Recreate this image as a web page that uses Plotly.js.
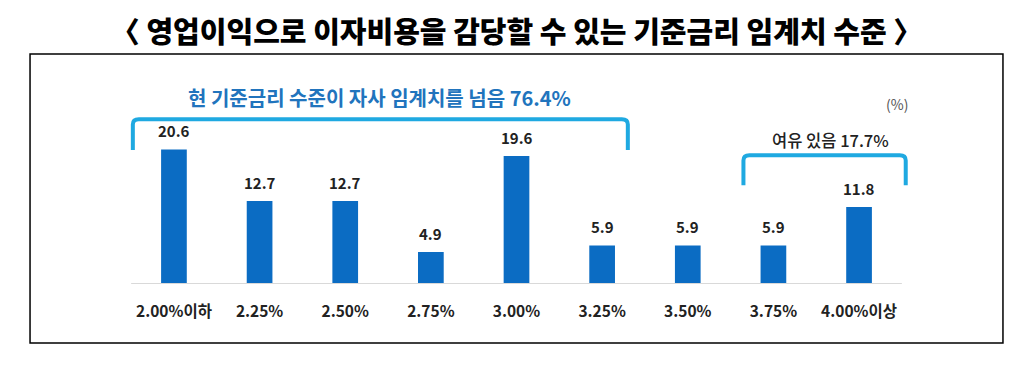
<!DOCTYPE html>
<html>
<head>
<meta charset="utf-8">
<script src="https://cdn.plot.ly/plotly-3.0.1.min.js"></script>
<style>html,body{margin:0;padding:0;background:#fff;}#chart{width:1034px;height:367px;}</style>
</head>
<body>
<div id="chart"></div>
<script>
const categories = ["2.00%이하", "2.25%", "2.50%", "2.75%", "3.00%", "3.25%", "3.50%", "3.75%", "4.00%이상"];
const values = [20.6, 12.7, 12.7, 4.9, 19.6, 5.9, 5.9, 5.9, 11.8];
const valueLabels = ["20.6", "12.7", "12.7", "4.9", "19.6", "5.9", "5.9", "5.9", "11.8"];
const titleText = "〈 영업이익으로 이자비용을 감당할 수 있는 기준금리 임계치 수준 〉";
const overText = "현 기준금리 수준이 자사 임계치를 넘음 76.4%";
const marginText = "여유 있음 17.7%";
const unitText = "(%)";

const idx = categories.map((_, i) => i);
const FONT = "'Noto Sans CJK KR', 'Noto Sans', sans-serif";
const bracketColor = "#1fa9e1";

function bracket(x0, x1, yTop, yBot, rx, ry) {
  return `M ${x0} ${yBot} L ${x0} ${yTop - ry} Q ${x0} ${yTop} ${x0 + rx} ${yTop} L ${x1 - rx} ${yTop} Q ${x1} ${yTop} ${x1} ${yTop - ry} L ${x1} ${yBot}`;
}

const trace = {
  type: "bar",
  x: idx,
  y: values,
  marker: {color: "#0b6cc3"},
  hoverinfo: "none"
};

const annotations = idx.map((i) => ({
  x: i, y: values[i], xref: "x", yref: "y",
  text: valueLabels[i], showarrow: false,
  yanchor: "bottom", yshift: 6,
  font: {family: FONT, size: 15, color: "#222", weight: 700}
}));
annotations.push({
  x: 2.4, y: 28.6, xref: "x", yref: "y", text: overText, showarrow: false,
  font: {family: FONT, size: 20, color: "#2174bd", weight: 700}
});
annotations.push({
  x: 7.67, y: 22.0, xref: "x", yref: "y", text: marginText, showarrow: false,
  font: {family: FONT, size: 16.5, color: "#222", weight: 500}
});
annotations.push({
  x: 8.44, y: 27.5, xref: "x", yref: "y", text: unitText, showarrow: false,
  font: {family: FONT, size: 14, color: "#555"}
});

const shapes = [
  {type: "rect", xref: "paper", yref: "paper", x0: -0.1043, x1: 1.1043, y0: -0.301, y1: 1.173,
   line: {color: "#000", width: 1.5}, fillcolor: "rgba(0,0,0,0)"},
  {type: "line", xref: "x", yref: "y", x0: -0.5, x1: 8.5, y0: 0, y1: 0,
   line: {color: "#d9d9d9", width: 2}},
  {type: "path", xref: "x", yref: "y", path: bracket(-0.48, 5.30, 25.2, 20.5, 0.07, 0.8),
   line: {color: bracketColor, width: 4}},
  {type: "path", xref: "x", yref: "y", path: bracket(6.65, 8.545, 19.7, 15.1, 0.07, 0.8),
   line: {color: bracketColor, width: 4}}
];

const layout = {
  width: 1034, height: 367,
  margin: {l: 114, r: 115, t: 88, b: 83},
  paper_bgcolor: "#fff", plot_bgcolor: "#fff",
  showlegend: false,
  bargap: 0.7,
  title: {
    text: titleText, x: 0.5, xanchor: "center", xref: "paper",
    y: 1 - 33 / 367, yref: "container", yanchor: "middle",
    font: {family: FONT, size: 29, color: "#000", weight: 900}
  },
  xaxis: {
    range: [-0.7, 8.7], tickmode: "array", tickvals: idx, ticktext: categories,
    showgrid: false, zeroline: false, showline: false, ticks: "",
    ticklabelstandoff: 16,
    tickfont: {family: FONT, size: 15.5, color: "#222", weight: 700},
    fixedrange: true
  },
  yaxis: {
    range: [0, 30], visible: false, showgrid: false, zeroline: false, fixedrange: true
  },
  annotations: annotations,
  shapes: shapes
};

Plotly.newPlot("chart", [trace], layout, {displayModeBar: false, staticPlot: true});
</script>
</body>
</html>
